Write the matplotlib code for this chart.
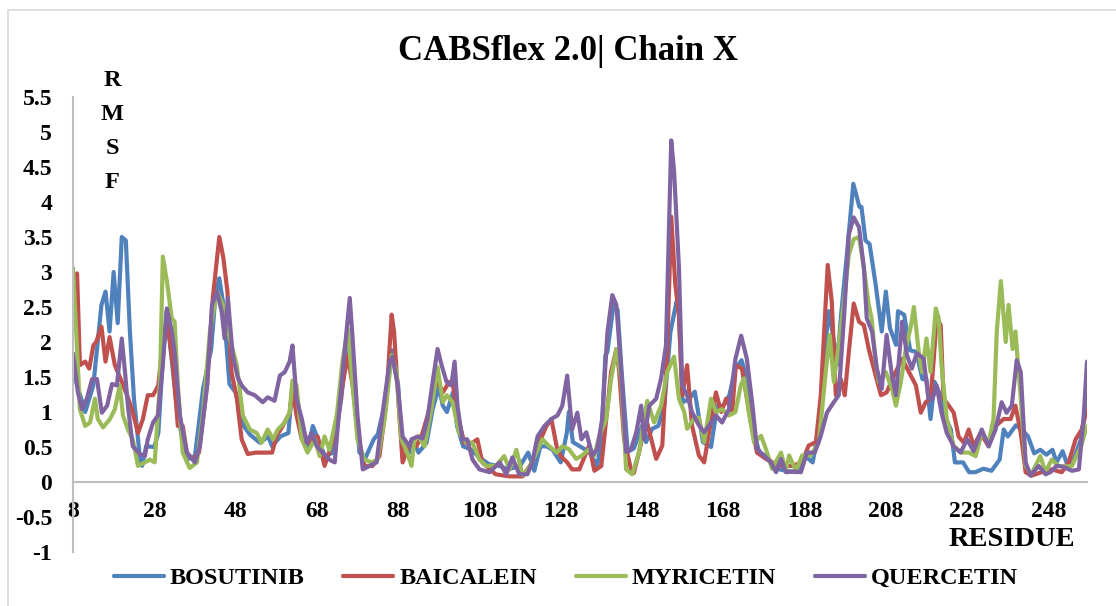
import numpy as np
import matplotlib
matplotlib.use("Agg")
import matplotlib.pyplot as plt
from matplotlib.patches import Rectangle

# RMSF per residue (chain X)
bos_res = [8, 11, 13, 15, 16, 17, 18, 19, 20, 21, 22, 23, 24.5, 25, 26, 28, 29, 30, 31, 32,
           33.5, 35, 36, 38, 40, 42, 43, 44, 45, 46.5, 48, 50, 51.5, 54, 56, 57, 59, 61, 62, 63,
           64.5, 66, 67, 69, 70, 72, 74, 75.5, 77, 78.5, 80, 82, 83, 85, 86.5, 88, 89, 91, 92, 93,
           95, 96.5, 98, 99, 100, 101.5, 102.5, 104, 106, 108, 110.5, 113, 115, 118, 120, 121.5,
           123, 124.5, 126, 128, 129.5, 130, 131, 133, 135, 137, 138, 139, 139.5, 141, 142, 143,
           144.5, 146, 148, 149, 150.5, 152, 153.5, 155, 156.5, 157, 158, 159.5, 161, 163, 165,
           166.5, 168, 169.5, 171, 172.5, 174, 175.5, 177, 178.5, 181, 183.5, 186, 188, 190,
           191.5, 193, 194, 195, 196, 197, 198.5, 200, 201.5, 202, 203, 204, 205.5, 207, 208,
           209, 210.5, 211, 212.5, 214, 215.5, 217, 218, 219, 220, 221.5, 222.5, 224, 225, 227,
           228.5, 230, 232, 234, 236, 237, 238, 240, 241.5, 243, 244.5, 246, 247.5, 249, 250,
           251.5, 253, 254.5, 256, 257.5]
bos_rmsf = [1.58, 1.0, 1.38, 2.53, 2.72, 2.15, 3.0, 2.27, 3.5, 3.45, 2.15, 1.19, 0.32, 0.23, 0.51,
            0.5, 0.7, 1.67, 2.43, 1.9, 1.09, 0.56, 0.32, 0.37, 1.33, 1.9, 2.63, 2.91, 2.53, 1.4,
            1.28, 0.8, 0.68, 0.56, 0.65, 0.51, 0.65, 0.7, 1.38, 1.09, 0.61, 0.51, 0.8, 0.51, 0.37,
            0.42, 1.19, 2.0, 1.33, 0.42, 0.35, 0.61, 0.68, 1.19, 1.88, 1.38, 0.51, 0.42, 0.56,
            0.42, 0.56, 1.04, 1.36, 1.09, 1.0, 1.28, 0.8, 0.51, 0.46, 0.35, 0.25, 0.23, 0.18, 0.23,
            0.42, 0.16, 0.51, 0.51, 0.46, 0.28, 0.7, 1.0, 0.57, 0.5, 0.43, 0.23, 0.6, 1.81, 1.86,
            2.53, 2.46, 1.57, 0.43, 0.48, 0.8, 0.57, 0.76, 0.8, 1.09, 2.14, 2.58, 2.51, 1.14, 1.18,
            1.29, 0.57, 0.5, 1.09, 1.09, 1.24, 1.62, 1.74, 1.43, 0.71, 0.4, 0.38, 0.19, 0.16, 0.14,
            0.38, 0.28, 0.76, 1.91, 2.44, 2.1, 1.67, 2.39, 3.3, 4.26, 3.93, 3.93, 3.45, 3.4, 2.82,
            2.15, 2.72, 2.2, 1.96, 2.44, 2.39, 1.88, 1.86, 1.47, 1.47, 0.9, 1.43, 1.23, 0.94, 0.75,
            0.28, 0.28, 0.14, 0.14, 0.19, 0.16, 0.32, 0.75, 0.65, 0.81, 0.75, 0.65, 0.41, 0.46,
            0.39, 0.46, 0.28, 0.44, 0.19, 0.37, 0.61, 1.19]

bai_res = [8, 9, 9.7, 11, 12, 13, 13.7, 15, 16, 17, 18.3, 20, 21.3, 22.5, 24, 25.2, 26.4, 27.7,
           29, 30, 31.3, 32.6, 33.8, 35, 36, 37.5, 39, 41, 42.4, 44, 45, 46, 47, 48.3, 49.5, 51,
           53, 55, 57, 58, 59.6, 61.3, 62, 63, 64.3, 66.2, 68.2, 69.9, 71, 73, 74.3, 75.6, 76.8,
           78.5, 79.7, 81.7, 83.4, 85, 86.4, 87, 88.3, 89.1, 90.8, 92.5, 94, 95.7, 97.4, 99,
           100.6, 101.4, 102.6, 104.3, 106.3, 107.5, 108.7, 112, 115.4, 118.6, 121, 122.7, 124.5,
           125.7, 127, 128, 129.6, 130.8, 132.6, 135, 136.3, 138, 139.2, 140.4, 141.7, 142.4,
           143.6, 145.3, 146, 147.3, 149, 150.3, 151.5, 153, 154.2, 155.2, 156.2, 157.1, 157.9,
           159.1, 160.3, 162, 163.3, 164.5, 166.2, 167.5, 168.7, 170.2, 171.1, 172.6, 173.8,
           174.8, 176.3, 178.5, 180, 182.4, 184.9, 187.4, 189, 190.8, 192, 193, 193.7, 194.7,
           195.7, 196.9, 197.9, 198.9, 200.1, 201.4, 202.6, 203.8, 205.5, 206.8, 208.2, 210, 212,
           213.7, 215.4, 216.6, 217.8, 219, 219.8, 220.5, 221.5, 222.2, 223.5, 224.7, 225.9,
           227.2, 228.4, 229.6, 231.3, 233.3, 235, 237, 238.7, 239.9, 241.2, 242.4, 243.8, 246.3,
           248.8, 251.3, 253, 254.7, 256.2, 257.5]
bai_rmsf = [2.9, 2.98, 1.67, 1.72, 1.62, 1.95, 2.0, 2.22, 1.72, 2.07, 1.67, 1.43, 1.24, 1.04, 0.7,
            0.9, 1.24, 1.24, 1.38, 1.95, 2.24, 1.67, 0.8, 0.8, 0.42, 0.32, 0.42, 1.38, 2.63, 3.5,
            3.2, 2.72, 1.57, 1.2, 0.61, 0.4, 0.42, 0.42, 0.42, 0.65, 0.8, 0.99, 1.33, 0.95, 0.61,
            0.56, 0.65, 0.23, 0.42, 0.8, 1.38, 1.81, 1.38, 0.56, 0.23, 0.23, 0.37, 1.09, 2.39,
            2.15, 0.95, 0.28, 0.55, 0.51, 0.7, 1.04, 1.47, 1.28, 1.43, 1.43, 0.95, 0.56, 0.56,
            0.61, 0.28, 0.11, 0.08, 0.08, 0.28, 0.56, 0.8, 0.9, 0.51, 0.37, 0.28, 0.18, 0.18, 0.52,
            0.16, 0.23, 0.9, 1.57, 1.9, 1.57, 0.61, 0.18, 0.13, 0.43, 0.9, 0.61, 0.33, 0.52, 1.86,
            3.79, 2.82, 2.39, 1.24, 1.67, 0.81, 0.38, 0.28, 0.71, 1.28, 1.0, 1.19, 1.0, 1.67, 1.62,
            1.2, 0.85, 0.42, 0.33, 0.28, 0.23, 0.23, 0.28, 0.52, 0.57, 1.24, 2.34, 3.1, 2.58, 1.24,
            1.47, 1.24, 1.86, 2.55, 2.29, 2.24, 1.9, 1.52, 1.24, 1.28, 1.52, 1.76, 1.57, 1.38,
            0.99, 1.14, 1.19, 1.76, 2.34, 2.24, 1.19, 1.09, 0.99, 0.65, 0.56, 0.75, 0.51, 0.7,
            0.51, 0.8, 0.9, 0.9, 1.09, 0.7, 0.14, 0.09, 0.14, 0.18, 0.14, 0.28, 0.61, 0.75, 1.04]

myr_res = [8, 9, 9.7, 11, 12.2, 13.4, 14.1, 15.4, 17.1, 18.3, 19.5, 20.3, 21.5, 22.7, 24, 25.7,
           26.9, 28.1, 29.4, 30.1, 31.1, 32.3, 33, 33.8, 35, 36.7, 38.5, 40, 41.7, 43.4, 44.9,
           46.6, 48.3, 49.8, 51.5, 53.2, 54.4, 55.9, 57.2, 58.4, 60.1, 61.3, 62, 63, 64.3, 65.7,
           67.5, 68.7, 69.9, 71.1, 72.9, 74.3, 75.6, 76.8, 78, 79.7, 81.5, 82.9, 84.7, 86.4, 87.6,
           88.8, 90, 91.3, 92, 93, 94.5, 96.2, 97.7, 99, 100, 101.4, 103, 104.8, 106.3, 108,
           109.7, 112, 114.1, 115.4, 117.1, 118.6, 120, 122, 123.5, 125.2, 127, 128.4, 130,
           131.8, 133.3, 135, 136.3, 137.5, 139.2, 140.4, 141.7, 142.9, 144.1, 145.6, 147.3,
           148.5, 149.3, 151, 152.7, 154.2, 155.9, 157.1, 158.4, 159.1, 160.8, 162, 163.3, 165,
           166.2, 167.7, 169.4, 171, 172.3, 173.1, 174.3, 175.6, 177.3, 178.5, 180, 182.2, 183.4,
           184.2, 185.9, 187.4, 189.5, 191.5, 193.3, 194.2, 195.2, 196.5, 197.7, 198.9, 200.1,
           201.4, 202.6, 203.8, 204.5, 205.5, 206.3, 208, 209.5, 210.5, 211.7, 212.9, 214.2,
           214.9, 216.1, 216.9, 218, 219, 220.3, 221, 221.7, 223, 224.7, 226.7, 228.4, 230.1,
           231.6, 233.3, 234.5, 235.3, 236.3, 237.5, 238.2, 239.2, 239.9, 241.2, 242.4, 243.8,
           246, 247.3, 248.8, 250.5, 252, 253.8, 256, 257.5]
myr_rmsf = [3.06, 1.9, 1.04, 0.8, 0.85, 1.19, 0.9, 0.78, 0.9, 1.04, 1.38, 0.95, 0.75, 0.61, 0.23,
            0.28, 0.32, 0.28, 1.43, 3.22, 2.87, 2.34, 2.29, 1.38, 0.42, 0.2, 0.28, 0.99, 2.15,
            2.72, 2.53, 2.05, 1.67, 0.95, 0.75, 0.7, 0.56, 0.75, 0.61, 0.75, 0.85, 0.99, 1.45,
            1.38, 0.61, 0.42, 0.61, 0.37, 0.65, 0.46, 0.95, 1.72, 2.19, 1.38, 0.61, 0.32, 0.28,
            0.32, 0.9, 1.81, 1.57, 0.61, 0.45, 0.23, 0.61, 0.65, 0.51, 1.04, 1.64, 1.14, 1.24,
            1.14, 0.7, 0.56, 0.56, 0.32, 0.23, 0.23, 0.37, 0.18, 0.46, 0.1, 0.18, 0.42, 0.61, 0.51,
            0.42, 0.51, 0.47, 0.33, 0.38, 0.47, 0.38, 0.66, 0.9, 1.47, 1.9, 1.47, 0.18, 0.11, 0.43,
            0.9, 1.16, 0.85, 1.09, 1.57, 1.79, 1.19, 1.0, 0.76, 0.9, 0.92, 0.57, 1.19, 1.0, 1.04,
            0.95, 1.0, 1.38, 1.48, 0.99, 0.56, 0.66, 0.47, 0.19, 0.42, 0.16, 0.38, 0.16, 0.38,
            0.38, 0.56, 1.62, 2.1, 1.43, 2.0, 2.58, 3.25, 3.47, 3.5, 3.06, 2.53, 2.34, 1.72, 1.43,
            1.57, 1.33, 1.09, 1.43, 1.9, 2.24, 2.5, 1.86, 1.57, 2.05, 1.57, 2.48, 2.34, 1.67, 0.9,
            0.51, 0.42, 0.42, 0.37, 0.7, 0.56, 0.9, 2.15, 2.87, 2.0, 2.53, 1.9, 2.15, 1.19, 0.23,
            0.11, 0.37, 0.14, 0.32, 0.23, 0.22, 0.23, 0.51, 0.8]

que_res = [8, 9.2, 10.2, 11.4, 12.7, 13.9, 15.1, 16.4, 17.6, 18.8, 20, 20.8, 21.5, 22.7, 24.5,
           25.7, 26.4, 27.7, 28.9, 30.1, 31.1, 32.3, 33, 34.3, 36, 38, 39.2, 41, 42.2, 43.4, 44.6,
           45.3, 46.1, 47.3, 48.5, 49.5, 51, 52.7, 54.7, 55.9, 57.6, 58.9, 60.1, 61.3, 62, 63,
           64.3, 65.5, 66.7, 68, 69.4, 71.1, 72.4, 73.6, 75.3, 76.1, 76.8, 78, 79.3, 81, 82.7,
           84.2, 85.9, 86.6, 87.9, 89.1, 90.8, 91.3, 92.8, 94, 95.2, 96.5, 97.7, 98.7, 99.9,
           101.1, 101.9, 102.6, 103.8, 105, 106.3, 108, 110.5, 113, 114.6, 116.1, 117.8, 119.8,
           121, 122.3, 124, 125.7, 127.2, 128.4, 129.6, 130.8, 132.1, 133.1, 134.3, 135.8, 137,
           138.2, 139.5, 140.7, 141.7, 142.9, 144.1, 145.3, 146.6, 147.8, 148.5, 149.8, 151.5,
           152.7, 153.9, 155.2, 155.9, 157.1, 157.9, 159.1, 160.3, 162, 163.3, 164.5, 166.2,
           167.7, 169.4, 171, 172.4, 173.8, 175.1, 176.3, 178, 179.7, 181, 182.2, 183.4, 185.5,
           187.1, 188.6, 190.5, 192, 193.5, 195.2, 196.4, 197.7, 198.9, 200.1, 201.4, 202.6,
           203.3, 204.6, 205.8, 207, 208.2, 209.5, 210.5, 212, 213.2, 214.4, 215.6, 217.3, 218.5,
           219.5, 220.5, 221.7, 223, 224.7, 226.4, 228, 229.6, 231.6, 233.3, 235, 236.5, 237.7,
           239, 240.2, 241.2, 242.4, 243.6, 245.6, 247.3, 248.5, 250, 251.5, 253.8, 255.5, 256.7,
           257.5]
que_rmsf = [1.84, 1.28, 1.04, 1.19, 1.47, 1.47, 0.99, 1.09, 1.4, 1.38, 2.05, 1.57, 1.09, 0.51, 0.4,
            0.37, 0.61, 0.85, 0.95, 1.67, 2.48, 2.15, 1.86, 0.95, 0.42, 0.28, 0.51, 1.38, 2.53,
            2.72, 2.43, 2.05, 2.63, 1.81, 1.5, 1.38, 1.28, 1.24, 1.14, 1.21, 1.16, 1.52, 1.57, 1.72,
            1.95, 1.19, 0.9, 0.56, 0.7, 0.51, 0.42, 0.32, 0.28, 1.09, 2.15, 2.63, 2.05, 0.95, 0.18,
            0.23, 0.28, 0.99, 1.72, 1.79, 1.38, 0.65, 0.51, 0.61, 0.65, 0.62, 0.9, 1.43, 1.9, 1.67,
            1.43, 1.38, 1.72, 1.09, 0.61, 0.61, 0.32, 0.18, 0.14, 0.28, 0.11, 0.35, 0.11, 0.11,
            0.28, 0.65, 0.8, 0.9, 0.95, 1.09, 1.52, 0.75, 0.99, 0.61, 0.71, 0.38, 0.47, 0.9, 2.14,
            2.67, 2.53, 1.57, 0.43, 0.47, 0.71, 1.09, 0.61, 1.09, 1.19, 1.48, 1.95, 4.88, 4.44,
            3.06, 1.38, 1.24, 1.0, 0.81, 0.71, 0.81, 0.95, 0.85, 1.04, 1.76, 2.09, 1.76, 1.14, 0.47,
            0.38, 0.28, 0.14, 0.33, 0.14, 0.15, 0.14, 0.42, 0.42, 0.66, 0.99, 1.14, 1.24, 2.34,
            3.54, 3.78, 3.64, 3.06, 2.34, 2.15, 1.62, 1.33, 2.1, 1.52, 1.24, 2.29, 1.81, 1.62, 1.84,
            1.76, 1.19, 1.19, 1.38, 0.99, 0.7, 0.51, 0.42, 0.61, 0.44, 0.75, 0.51, 0.75, 1.14, 0.99,
            1.09, 1.74, 1.57, 0.28, 0.09, 0.23, 0.11, 0.14, 0.23, 0.22, 0.16, 0.18, 0.95, 1.72]

names = ["BOSUTINIB", "BAICALEIN", "MYRICETIN", "QUERCETIN"]
colors = ["#4F81BD", "#C0504D", "#9BBB59", "#8064A2"]
xticks = list(range(8, 249, 20))
yticks = np.arange(-1, 5.51, 0.5)

W, H = 1116, 606
fig = plt.figure(figsize=(W / 100, H / 100), dpi=100)
font = "Liberation Serif"

ax = fig.add_axes([73 / W, 1 - 552 / H, (1087 - 73) / W, (552 - 97) / H])
series = [(bos_res, bos_rmsf), (bai_res, bai_rmsf), (myr_res, myr_rmsf), (que_res, que_rmsf)]
for (xs, ys), name, c in zip(series, names, colors):
    ax.plot(xs, ys, color=c, lw=3.0, label=name, solid_joinstyle="round",
            solid_capstyle="round")

ax.set_xlim(8, 257.5)
ax.set_ylim(-1, 5.5)
for s in ["top", "right"]:
    ax.spines[s].set_visible(False)
ax.spines["bottom"].set_position(("data", 0))
for s in ["left", "bottom"]:
    ax.spines[s].set_color("#BFBFBF")
    ax.spines[s].set_linewidth(1.5)

ax.set_xticks(xticks)
ax.set_xticklabels([str(t) for t in xticks])
ax.set_yticks(yticks)
ax.set_yticklabels(["%g" % t for t in yticks])
ax.tick_params(axis="x", length=0, pad=14)
ax.tick_params(axis="y", length=0, pad=15)
for lab in ax.get_xticklabels() + ax.get_yticklabels():
    lab.set_fontfamily(font)
    lab.set_fontweight("bold")
    lab.set_fontsize(17)

fig.text(568 / W, 1 - 52 / H, "CABSflex 2.0| Chain X", ha="center", va="center",
         fontsize=25, fontweight="bold", family=font)

# vertical y label, one letter per line
for i, ch in enumerate("RMSF"):
    fig.text(112 / W, 1 - (80 + 34.3 * i) / H, ch, ha="center", va="center",
             fontsize=17.5, fontweight="bold", family=font)

fig.text(1012 / W, 1 - 540 / H, "RESIDUE", ha="center", va="center",
         fontsize=20.5, fontweight="bold", family=font)

fig.legend(loc="center", bbox_to_anchor=(566 / W, 1 - 578 / H), ncol=4, frameon=False,
           prop={"family": font, "weight": "bold", "size": 17.5},
           handlelength=2.05, handletextpad=0.25, columnspacing=1.6)

fig.add_artist(Rectangle((8 / W, -0.1), 1.2, 1.1 - 10 / H, transform=fig.transFigure,
                         fill=False, edgecolor="#D9D9D9", lw=1.2))

fig.savefig("out.png", dpi=100)
